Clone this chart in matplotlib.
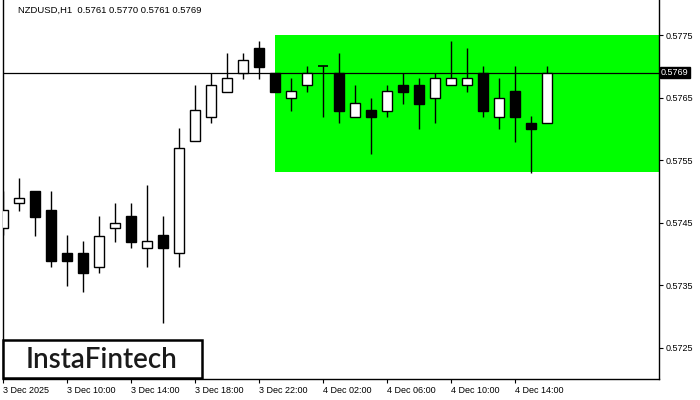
import matplotlib
matplotlib.use("Agg")
import matplotlib.pyplot as plt
from matplotlib.patches import Rectangle

# ---- data (NZDUSD H1) ----
opens = [0.57441, 0.57481, 0.57501, 0.57470, 0.57401, 0.57401, 0.57379, 0.57441, 0.57461, 0.57410,
         0.57430, 0.57401, 0.57580, 0.57619, 0.57659, 0.57690, 0.57730, 0.57690, 0.57650, 0.57670,
         0.57700, 0.57690, 0.57619, 0.57630, 0.57629, 0.57670, 0.57670, 0.57650, 0.57670, 0.57670,
         0.57690, 0.57619, 0.57660, 0.57610, 0.57610]
highs = [0.57500, 0.57521, 0.57501, 0.57501, 0.57430, 0.57421, 0.57461, 0.57482, 0.57482, 0.57510,
         0.57461, 0.57601, 0.57670, 0.57690, 0.57721, 0.57721, 0.57740, 0.57690, 0.57681, 0.57700,
         0.57700, 0.57721, 0.57670, 0.57650, 0.57670, 0.57690, 0.57681, 0.57690, 0.57740, 0.57730,
         0.57700, 0.57681, 0.57700, 0.57620, 0.57700]
lows = [0.57430, 0.57469, 0.57429, 0.57379, 0.57349, 0.57339, 0.57370, 0.57419, 0.57410, 0.57379,
        0.57290, 0.57379, 0.57580, 0.57610, 0.57659, 0.57680, 0.57680, 0.57659, 0.57629, 0.57659,
        0.57619, 0.57610, 0.57619, 0.57560, 0.57619, 0.57640, 0.57600, 0.57610, 0.57670, 0.57659,
        0.57619, 0.57600, 0.57579, 0.57530, 0.57610]
closes = [0.57470, 0.57490, 0.57459, 0.57389, 0.57389, 0.57370, 0.57429, 0.57450, 0.57419, 0.57421,
          0.57410, 0.57570, 0.57630, 0.57670, 0.57681, 0.57710, 0.57699, 0.57659, 0.57660, 0.57690,
          0.57700, 0.57629, 0.57641, 0.57619, 0.57660, 0.57659, 0.57640, 0.57681, 0.57681, 0.57681,
          0.57629, 0.57650, 0.57619, 0.57600, 0.57690]

xtick_idx = [0, 4, 8, 12, 16, 20, 24, 28, 32]
xtick_labels = ["3 Dec 2025", "3 Dec 10:00", "3 Dec 14:00", "3 Dec 18:00", "3 Dec 22:00",
                "4 Dec 02:00", "4 Dec 06:00", "4 Dec 10:00", "4 Dec 14:00"]
yticks = [0.5725, 0.5735, 0.5745, 0.5755, 0.5765, 0.5775]

symbol = "NZDUSD,H1"
last_price = 0.5769
zone_start = 17          # rectangle pattern starts at this bar
zone_top = 0.5775
zone_bottom = 0.57531

plt.rcParams['font.family'] = ['Liberation Sans', 'DejaVu Sans']

W, H = 700, 400
fig = plt.figure(figsize=(7, 4), dpi=100)
ax = fig.add_axes([2.5 / W, 21 / H, (659 - 2.5) / W, 379 / H])

# green rectangle zone
ax.add_patch(Rectangle((zone_start, zone_bottom), 100, zone_top - zone_bottom,
                       facecolor='#00ff00', edgecolor='none', zorder=1))

# current price line
ax.axhline(last_price, color='black', lw=0.9, zorder=2)

bw = 0.625
for i in range(len(opens)):
    o, h, l, c = opens[i], highs[i], lows[i], closes[i]
    ax.vlines(i, l, h, color='black', lw=1.0, zorder=3)
    lo, hi = min(o, c), max(o, c)
    if hi - lo < 1e-6:
        ax.hlines(o, i - bw / 2, i + bw / 2, color='black', lw=1.2, zorder=4)
    else:
        fc = 'white' if c > o else 'black'
        ax.add_patch(Rectangle((i - bw / 2, lo), bw, hi - lo, facecolor=fc,
                               edgecolor='black', lw=1.0, zorder=4))

ax.set_xlim(-0.05, 40.98)
ax.set_ylim(0.572000, 0.578060)

# axes styling like a trading terminal
ax.spines['top'].set_visible(False)
for s in ['left', 'right', 'bottom']:
    ax.spines[s].set_linewidth(1.0)
ax.yaxis.tick_right()
ax.set_yticks(yticks)
ax.set_yticklabels(["%.4f" % v for v in yticks])
ax.set_xticks(xtick_idx)
ax.set_xticklabels(xtick_labels, ha='left')
ax.tick_params(axis='y', direction='out', length=3, width=0.8, labelsize=6.5, pad=2)
ax.tick_params(axis='x', direction='out', length=3, width=0.8, labelsize=6.5, pad=2)

# price label box on the right axis
ax.text(1.003, (last_price - 0.572) / (0.57806 - 0.572), "%.4f" % last_price,
        transform=ax.transAxes, ha='left', va='center', fontsize=6.5, color='white',
        bbox=dict(boxstyle='square,pad=0.15', facecolor='black', edgecolor='black'))

# header text
fig.text(18 / W, 1 - 10 / H, symbol + "  0.5761 0.5770 0.5761 0.5769",
         ha='left', va='center', fontsize=6.8, color='black')

# logo
logo = Rectangle((3 / W, 22 / H), 199 / W, 38 / H, transform=fig.transFigure,
                 facecolor='white', edgecolor='black', lw=1.8, zorder=10)
fig.patches.append(logo)
fig.text(102 / W, 1 - 360 / H, "InstaFintech", ha='center', va='center',
         fontsize=20, color='#1a1a1a', family=['Lato', 'DejaVu Sans'],
         fontweight='semibold', zorder=11)

fig.savefig("out.png", dpi=100)
